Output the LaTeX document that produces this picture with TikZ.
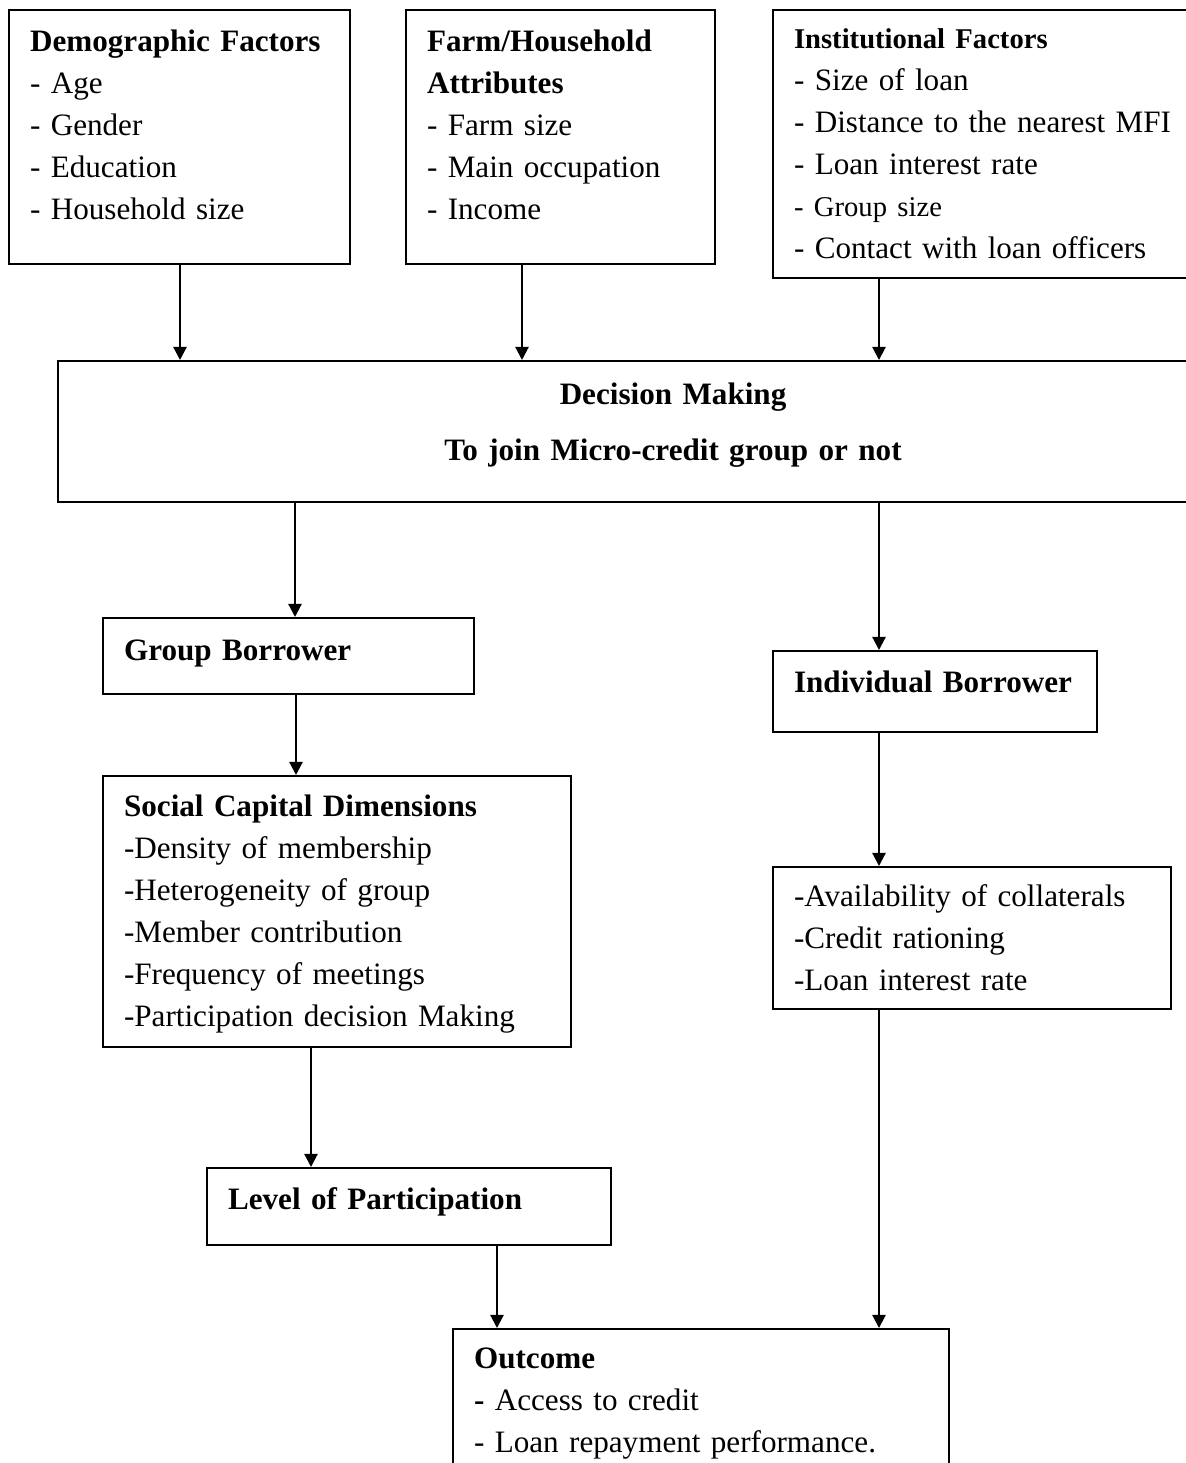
\documentclass[tikz,border=0pt]{standalone}
\usepackage{fontspec}
\setmainfont{Liberation Serif}
\usetikzlibrary{arrows.meta}
\newlength{\pxu}
\setlength{\pxu}{0.3774pt}
\newcommand{\boxfont}{\fontsize{11.75pt}{15.85pt}\selectfont}
\newcommand{\smallfont}{\fontsize{10.8pt}{15.85pt}\selectfont}
\tikzset{
  box/.style={draw, line width=0.8pt, anchor=north west, align=left,
    inner xsep=21\pxu, inner ysep=0pt, font=\boxfont},
  arr/.style={line width=0.8pt, -{Triangle[length=5pt,width=5pt]}}
}
\begin{document}
\begin{tikzpicture}[x=0.3774pt, y=-0.3774pt]
  \useasboundingbox (0,0) rectangle (1186,1463);
  \clip (0,0) rectangle (1186,1463);
  % factors
  \node[box, text width=299\pxu, text height=41\pxu, text depth=213\pxu] (demo) at (8,9)
    {\textbf{Demographic Factors}\\- Age\\- Gender\\- Education\\- Household size};
  \node[box, text width=267\pxu, text height=41\pxu, text depth=213\pxu] (farm) at (405,9)
    {\textbf{Farm/Household}\\\textbf{Attributes}\\- Farm size\\- Main occupation\\- Income};
  \node[box, text width=398\pxu, text height=38\pxu, text depth=230\pxu] (inst) at (772,9)
    {{\smallfont\textbf{Institutional Factors}}\\- Size of loan\\- Distance to the nearest MFI\\- Loan interest rate\\{\smallfont - Group size}\\- Contact with loan officers};
  % decision
  \node[box, align=center, font=\boxfont\bfseries, text width=1188\pxu, text height=43\pxu, text depth=98\pxu] (dec) at (57,360)
    {Decision Making\\[14\pxu]To join Micro-credit group or not};
  % group side
  \node[box, text width=329\pxu, text height=42\pxu, text depth=34\pxu] (grp) at (102,617)
    {\mbox{\textbf{Group Borrower}}};
  \node[box, text width=426\pxu, text height=40\pxu, text depth=231\pxu] (soc) at (102,775)
    {\textbf{Social Capital Dimensions}\\-Density of membership\\-Heterogeneity of group\\-Member contribution\\-Frequency of meetings\\-Participation decision Making};
  \node[box, text width=362\pxu, text height=41\pxu, text depth=36\pxu] (lvl) at (206,1167)
    {\mbox{\textbf{Level of Participation}}};
  % individual side
  \node[box, text width=282\pxu, text height=41\pxu, text depth=40\pxu] (ind) at (772,650)
    {\mbox{\textbf{Individual Borrower}}};
  \node[box, text width=356\pxu, text height=39\pxu, text depth=103\pxu] (avail) at (772,866)
    {-Availability of collaterals\\-Credit rationing\\-Loan interest rate};
  % outcome
  \node[box, text width=454\pxu, text height=39\pxu, text depth=121\pxu] (out) at (452,1328)
    {\textbf{Outcome}\\\textbf{-} Access to credit\\- Loan repayment performance.};
  % connectors
  \foreach \src/\dst/\dx in {demo/dec/172, farm/dec/117, inst/dec/107, dec/grp/238, dec/ind/822,
      grp/soc/194, ind/avail/107, soc/lvl/209, lvl/out/291, avail/out/107}
  {
    \draw[arr] ([xshift=\dx\pxu]\src.south west) coordinate (s) -- (s |- \dst.north);
  }
\end{tikzpicture}
\end{document}
